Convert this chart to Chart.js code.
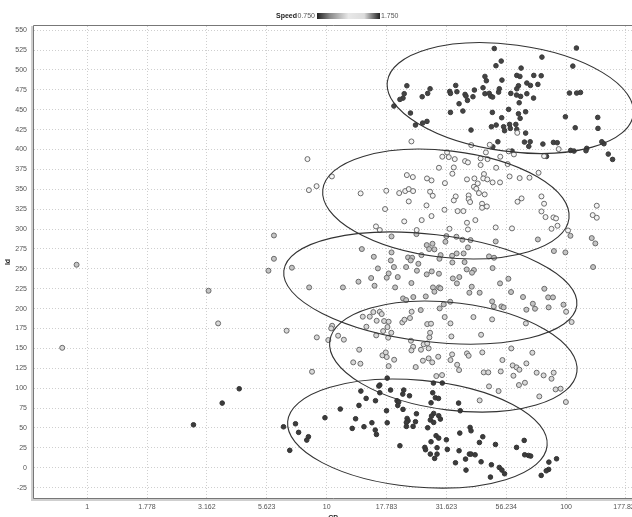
<!DOCTYPE html>
<html>
<head>
<meta charset="utf-8">
<title>Speed scatter</title>
<script src="https://cdn.jsdelivr.net/npm/chart.js@4"></script>
<style>
  html, body { margin: 0; padding: 0; background: #fff; overflow: hidden; }
  canvas { display: block; filter: blur(0.35px); }
</style>
</head>
<body>
<canvas id="speed-chart" width="632" height="517"></canvas>
<script>
// every pair is [log10(CP), Id]
const darkTop = [[1.700,527],[2.043,527.6],[1.729,511.2],[1.707,505.4],[1.899,516.2],[2.028,504.9],[1.812,502.4],[1.794,493.2],[1.807,491.9],[1.865,493.2],[1.896,492.8],[1.661,491.9],[1.667,486.5],[1.732,487.3],[1.335,480.2],[1.836,483.6],[1.851,480.6],[1.882,481.9],[1.801,480.2],[1.794,476.4],[1.539,480.6],[1.653,477.7],[1.617,474.8],[1.721,476.4],[1.718,472.2],[1.432,476.4],[1.422,470.6],[1.399,466.4],[1.324,470.2],[1.319,464.7],[1.306,463],[1.514,473.1],[1.517,470.6],[1.544,472.7],[1.578,469.3],[1.582,467.2],[1.611,466.4],[1.588,461.8],[1.553,457.6],[1.569,448.4],[1.517,446.7],[1.661,470.2],[1.679,470.6],[1.685,467.2],[1.693,466],[1.769,470.6],[1.793,468.5],[1.81,466.8],[1.836,470.2],[1.864,464.7],[1.804,458.8],[2.014,471],[2.044,471],[2.06,471.8],[1.281,454.7],[1.35,445.9],[1.76,450.5],[1.692,446.7],[1.801,445],[1.831,447.5],[1.808,439.2],[1.731,440],[1.997,441.2],[2.132,440.4],[1.371,430.8],[1.401,433.3],[1.419,435.4],[1.603,424.5],[1.688,428.7],[1.708,430.8],[1.739,428.7],[1.743,423.7],[1.764,431.6],[1.767,426.6],[1.79,431.6],[1.794,425.3],[2.038,427.4],[2.133,426.6],[1.831,420.7],[1.715,409.8],[1.694,403.5],[1.826,409.4],[1.85,409.8],[1.844,404],[1.903,406.9],[1.947,409],[1.963,408.6],[1.774,398.1],[2.019,398.9],[2.033,398.1],[2.086,401.5],[2.083,398.5],[2.149,409.8],[2.158,407.3],[2.176,394.3],[2.194,387.6],[1.918,391.4]];

const whiteUpper = [[1.354,410.2],[1.604,405.6],[1.681,406],[1.796,421],[1.665,396.4],[1.503,396.4],[1.483,391],[1.51,390.5],[1.535,388],[1.578,385.5],[1.59,383.8],[1.643,388.9],[1.672,388],[1.643,380.5],[1.725,391],[1.756,381.7],[1.708,377.1],[1.469,377.1],[1.531,377.5],[1.525,369.6],[1.76,397.7],[1.782,393.9],[1.908,391.8],[1.969,400.6],[1.022,366.2],[1.335,367.9],[1.36,365.4],[1.419,363.7],[1.438,361.2],[1.494,357.8],[1.586,362.5],[1.617,363.7],[1.657,369.2],[1.654,363.7],[1.671,362.5],[1.693,358.7],[1.724,358.7],[1.764,366.2],[1.806,364.1],[1.847,364.6],[1.885,370.8],[1.631,357.4],[1.615,353.2],[1.625,350.7],[1.142,344.9],[1.249,348.2],[1.303,345.3],[1.328,347.8],[1.343,350.3],[1.361,347.8],[1.432,347],[1.443,341.9],[1.636,345.3],[1.66,343.6],[1.343,334.8],[1.539,341.1],[1.531,336.1],[1.593,342.3],[1.593,337.7],[1.599,334],[1.897,341.1],[1.908,331.9],[1.814,338.6],[1.797,334.4],[2.128,329.4],[1.244,325.2],[1.417,329.8],[1.492,324.3],[1.547,322.6],[1.571,322.6],[1.649,331.9],[1.649,326.8],[1.669,328.5],[1.897,322.2],[1.914,315.1],[1.947,314.7],[1.958,313.4],[2.111,317.6],[2.128,314.3],[1.438,316.4],[1.324,309.7],[1.397,311.3],[1.586,308],[1.621,311.3],[1.964,304.2],[1.939,300.4],[2.008,298.3],[1.774,300.9],[1.59,299.6],[1.706,302.1],[1.513,300.4],[1.376,298.8],[1.206,303.4],[1.222,298.8],[0.92,388],[0.926,349],[0.958,354]];

const grayMiddle = [[1.375,293.7],[1.271,290.8],[1.706,284.5],[1.5,291.2],[1.542,290.4],[1.567,286.6],[1.601,286.2],[1.496,284.1],[1.997,270.7],[1.949,272.4],[2.1125,252.3],[2.018,291.6],[2.107,288.7],[2.122,282],[1.882,287],[1.147,274.9],[1.418,279.9],[1.442,281.6],[1.428,274.9],[1.45,274.5],[1.59,277],[1.572,269.4],[1.543,269.4],[1.524,266.5],[1.476,267.3],[1.471,262.7],[1.396,267.3],[1.525,258.1],[1.576,258.5],[1.271,270.7],[1.197,265.2],[1.268,260.6],[1.34,264.4],[1.357,264],[1.351,260.6],[1.383,256.4],[1.281,252.3],[1.332,252.3],[1.214,250.6],[1.678,265.7],[1.699,264],[1.693,251],[1.585,249.3],[1.615,248.5],[0.855,251.5],[0.927,226.7],[1.068,226.7],[1.133,233.9],[1.186,238.5],[1.2,228.8],[1.251,238.9],[1.259,244.3],[1.297,239.7],[1.286,226.7],[1.354,232.2],[1.377,247.7],[1.418,243.1],[1.439,246.8],[1.469,243.9],[1.527,238],[1.544,231.8],[1.554,239.7],[1.444,226.7],[1.469,226.7],[1.475,225.5],[1.45,221.3],[1.414,215.4],[1.362,214.6],[1.319,212.9],[1.332,210.8],[1.516,208.7],[1.489,205.4],[1.472,200.3],[1.393,198.2],[1.607,245.2],[1.759,237.6],[1.724,231.8],[1.606,227.6],[1.596,220],[1.639,220],[1.77,220.9],[1.909,225],[1.82,214.6],[1.925,214.2],[1.945,214.2],[1.691,209.1],[1.698,202.8],[1.73,202.8],[1.739,201.6],[1.861,206.2],[1.834,198.7],[1.87,199.9],[1.927,201.6],[1.989,205],[-0.044,255.2],[0.507,222.5],[0.757,247.7],[0.78,292],[0.78,262.7]];

const grayLower = [[2,196.1],[2.023,183.2],[1.613,189.4],[1.691,186.5],[1.517,181.5],[1.521,165.1],[1.832,181.5],[1.645,167.2],[1.771,150],[1.859,144.6],[1.524,142.5],[1.586,143.8],[1.593,140.8],[1.65,145],[1.517,135.4],[1.734,135.4],[1.545,129.5],[1.553,122.8],[1.777,128.7],[1.793,126.2],[1.805,123.2],[1.834,131.2],[1.656,119.9],[1.675,119.9],[1.727,121.1],[1.78,115.7],[1.877,119.5],[1.906,116.1],[1.948,119.5],[1.939,111.9],[1.803,104],[1.828,106.9],[1.678,102.3],[1.718,96.4],[1.956,98.5],[1.977,99.4],[1.888,89.7],[1.639,84.7],[1.999,82.6],[0.833,172.3],[0.959,163.9],[1.007,160.5],[1.023,178.5],[1.019,175.2],[1.048,166],[1.072,161],[0.939,120.7],[1.136,148.4],[1.111,132.5],[1.141,130.8],[1.151,189.9],[1.18,189.9],[1.195,195.7],[1.222,196.1],[1.23,193.2],[1.209,184.8],[1.24,184.4],[1.259,183.6],[1.254,176.9],[1.166,177.3],[1.236,171.8],[1.27,169.7],[1.207,166.4],[1.257,163.5],[1.316,182.7],[1.325,186.1],[1.348,188.2],[1.355,196.1],[1.352,159.7],[1.361,152.1],[1.354,147.5],[1.394,148.4],[1.405,155.1],[1.42,156.3],[1.426,150.1],[1.429,163.9],[1.432,169.7],[1.42,180.6],[1.436,181.1],[1.493,189.4],[1.233,141.3],[1.247,145],[1.251,139.2],[1.282,135.8],[1.259,127.8],[1.372,126.6],[1.402,134.6],[1.426,137.5],[1.441,132.5],[1.466,139.6],[1.458,115.3],[1.482,116.5],[-0.104,150.8],[0.547,181.5]];

const darkBottom = [[0.444,54],[0.564,81.3],[0.635,99.3],[0.82,51.5],[0.87,55.3],[0.883,44.5],[0.846,21.9],[0.924,39],[0.917,34.8],[0.993,62.9],[1.057,73.8],[1.143,96.4],[1.165,87.2],[1.135,78.4],[1.204,84.3],[1.121,61.6],[1.107,49.5],[1.156,51.6],[1.189,56.6],[1.203,47.4],[1.208,41.9],[1.25,71.7],[1.253,56.6],[1.253,112.7],[1.222,104],[1.218,102.7],[1.267,97.7],[1.222,94.3],[1.322,97.7],[1.318,92.6],[1.346,90.5],[1.294,84.3],[1.301,82.6],[1.297,78.4],[1.319,73.4],[1.375,67.9],[1.336,62],[1.34,59.1],[1.371,57.9],[1.333,57],[1.333,52],[1.361,52],[1.306,27.7],[1.422,50.3],[1.436,81.7],[1.443,94.3],[1.454,88],[1.467,87.2],[1.446,106.5],[1.483,106.5],[1.447,68.3],[1.438,65],[1.468,65.4],[1.475,61.2],[1.433,60],[1.447,57],[1.551,81.3],[1.558,71.7],[1.556,43.6],[1.457,40.3],[1.468,37.3],[1.5,35.2],[1.436,32.7],[1.461,25.2],[1.504,23.1],[1.41,25.6],[1.413,22.7],[1.433,17.2],[1.461,17.2],[1.451,11.8],[1.538,6.3],[1.553,21.4],[1.599,50.7],[1.603,46.5],[1.652,39],[1.638,31.8],[1.705,29.3],[1.825,34.4],[1.793,25.6],[1.596,17.2],[1.603,17.2],[1.62,16.3],[1.58,10.9],[1.645,7.5],[1.582,-2.9],[1.688,3.8],[1.721,0.4],[1.732,-2.9],[1.743,-7.5],[1.684,-11.7],[1.827,16.3],[1.843,15.5],[1.852,14.7],[1.96,11.3],[1.928,7.1],[1.927,-2.1],[1.917,-3.8],[1.896,-9.6]];

// centre log10(CP), centre Id, half width in decades, half height in Id, tilt in degrees
const ellipses = [
  [1.767, 464.7, 0.518, 67, 7.65],
  [1.498, 331.5, 0.5175, 67, 6.67],
  [1.433, 225.9, 0.616, 67.4, 6.76],
  [1.529, 139.8, 0.52, 67.5, 7.07],
  [1.379, 43, 0.544, 67.1, 5.3]
];

const xTickValues = [1, 1.77828, 3.16228, 5.62341, 10, 17.7828, 31.6228, 56.2341, 100, 177.828];
const xTickLabels = ['1', '1.778', '3.162', '5.623', '10', '17.783', '31.623', '56.234', '100', '177.828'];
const yTickValues = [-25, 0, 25, 50, 75, 100, 125, 150, 175, 200, 225, 250, 275, 300, 325, 350, 375, 400, 425, 450, 475, 500, 525, 550];
const speedRange = ['0.750', '1.750'];

const toPoints = pairs => pairs.map(([logCp, id]) => ({ x: Math.pow(10, logCp), y: id }));

const dotSet = (label, pairs, fill, edge, radius) => ({
  label,
  data: toPoints(pairs),
  backgroundColor: fill,
  borderColor: edge,
  borderWidth: 1,
  pointRadius: radius,
  pointHoverRadius: radius
});

const ellipsePlugin = {
  id: 'ellipses',
  afterDatasetsDraw(chart) {
    const { ctx, scales: { x, y }, chartArea: area } = chart;
    ctx.save();
    ctx.beginPath();
    ctx.rect(area.left, area.top, area.right - area.left, area.bottom - area.top);
    ctx.clip();
    ctx.strokeStyle = '#333';
    ctx.lineWidth = 1.1;
    ellipses.forEach(([logCp, id, halfW, halfH, tilt]) => {
      const cx = x.getPixelForValue(Math.pow(10, logCp));
      const cy = y.getPixelForValue(id);
      const rx = x.getPixelForValue(Math.pow(10, logCp + halfW)) - cx;
      const ry = cy - y.getPixelForValue(id + halfH);
      ctx.beginPath();
      ctx.ellipse(cx, cy, rx, ry, tilt * Math.PI / 180, 0, Math.PI * 2);
      ctx.stroke();
    });
    ctx.restore();
  }
};

const framePlugin = {
  id: 'frame',
  beforeDatasetsDraw(chart) {
    const { ctx, chartArea: a } = chart;
    ctx.save();
    ctx.fillStyle = '#cfcfcf';
    ctx.fillRect(a.left - 3, a.top, 3, a.bottom - a.top + 3);
    ctx.fillRect(a.left - 3, a.bottom + 1, a.right - a.left + 3, 2);
    ctx.strokeStyle = '#777';
    ctx.lineWidth = 1;
    ctx.beginPath();
    ctx.moveTo(a.right + 1, a.top - 0.5);
    ctx.lineTo(a.left - 0.5, a.top - 0.5);
    ctx.lineTo(a.left - 0.5, a.bottom + 0.5);
    ctx.lineTo(a.right + 1, a.bottom + 0.5);
    ctx.stroke();
    ctx.restore();
  }
};

const speedLegendPlugin = {
  id: 'speedLegend',
  afterDraw(chart) {
    const { ctx } = chart;
    ctx.save();
    ctx.textBaseline = 'middle';
    ctx.fillStyle = '#222';
    ctx.font = 'bold 7px "Liberation Sans"';
    ctx.textAlign = 'right';
    ctx.fillText('Speed', 297, 16);
    ctx.fillStyle = '#555';
    ctx.font = '7px "Liberation Sans"';
    ctx.textAlign = 'left';
    ctx.fillText(speedRange[0], 297.5, 16);
    ctx.fillText(speedRange[1], 381, 16);
    const grad = ctx.createLinearGradient(317, 0, 380, 0);
    grad.addColorStop(0, '#222');
    grad.addColorStop(0.2, '#888');
    grad.addColorStop(0.5, '#e8e8e8');
    grad.addColorStop(0.75, '#dcdcdc');
    grad.addColorStop(1, '#222');
    ctx.fillStyle = grad;
    ctx.fillRect(317, 13, 63, 6);
    ctx.restore();
  }
};

const speedChart = () => {
  const options = {
    type: 'scatter',
    data: {
      datasets: [
        dotSet('300-400', whiteUpper, '#f4f4f4', '#6a6a6a', 2.5),
        dotSet('200-300', grayMiddle, '#c4c4c4', '#6a6a6a', 2.5),
        dotSet('100-200', grayLower, '#d8d8d8', '#6a6a6a', 2.5),
        dotSet('400-550', darkTop, '#444', '#3a3a3a', 2.3),
        dotSet('0-100', darkBottom, '#3c3c3c', '#333', 2.3)
      ]
    },
    options: {
      responsive: false,
      animation: false,
      layout: { autoPadding: false, padding: { top: 26, left: 0, right: 0, bottom: 0 } },
      plugins: { legend: { display: false }, tooltip: { enabled: false } },
      scales: {
        x: {
          type: 'logarithmic',
          min: 0.607,
          max: 188.4,
          border: { display: false, dash: [1, 2] },
          grid: { color: '#cfcfcf', drawTicks: false },
          ticks: {
            autoSkip: false,
            maxRotation: 0,
            minRotation: 0,
            padding: 5,
            color: '#555',
            font: { family: 'Liberation Sans', size: 7 },
            callback: (value, index) => xTickLabels[index]
          },
          title: {
            display: true,
            text: 'CP',
            color: '#222',
            font: { family: 'Liberation Sans', size: 7, weight: 'bold' },
            padding: { top: 0, bottom: -5 }
          },
          afterBuildTicks: scale => { scale.ticks = xTickValues.map(value => ({ value })); },
          afterFit: scale => { scale.height = 19; scale.paddingLeft = 0; scale.paddingRight = 0; }
        },
        y: {
          min: -38,
          max: 555.3,
          border: { display: false, dash: [1, 2] },
          grid: { color: '#cfcfcf', drawTicks: false },
          ticks: {
            autoSkip: false,
            padding: 7,
            color: '#555',
            font: { family: 'Liberation Sans', size: 7 }
          },
          title: {
            display: true,
            text: 'Id',
            color: '#222',
            font: { family: 'Liberation Sans', size: 7, weight: 'bold' },
            padding: { top: 4, bottom: 0 }
          },
          afterBuildTicks: scale => { scale.ticks = yTickValues.map(value => ({ value })); },
          afterFit: scale => { scale.width = 34; scale.paddingTop = 0; scale.paddingBottom = 0; }
        }
      }
    },
    plugins: [framePlugin, ellipsePlugin, speedLegendPlugin]
  };
  new Chart(document.getElementById('speed-chart').getContext('2d'), options);
};

window.onload = () => {
  speedChart();
};
</script>
</body>
</html>
